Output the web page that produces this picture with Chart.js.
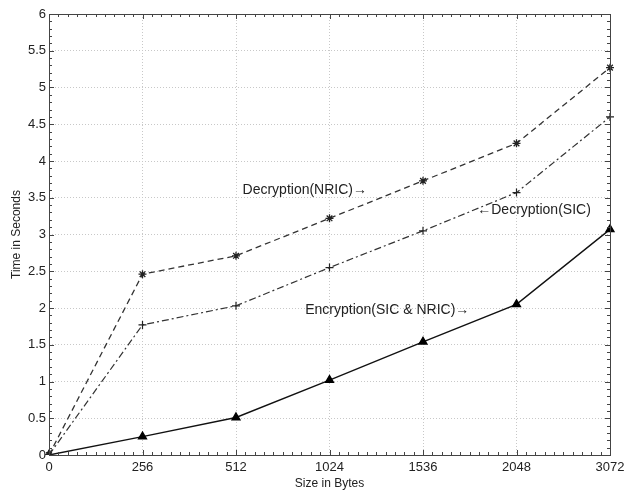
<!DOCTYPE html>
<html>
<head>
<meta charset="utf-8">
<script src="https://cdn.jsdelivr.net/npm/chart.js@4"></script>
<style>
  html, body { margin: 0; padding: 0; background: #fff; }
  #wrap { width: 624px; height: 491px; }
</style>
</head>
<body>
<div id="wrap"><canvas id="timeChart" width="624" height="491"></canvas></div>
<script>
// DATA
const sizes = ['0', '256', '512', '1024', '1536', '2048', '3072'];
const decNric = [0, 2.46, 2.71, 3.22, 3.73, 4.24, 5.27];
const decSic = [0, 1.77, 2.03, 2.55, 3.05, 3.57, 4.60];
const encBoth = [0, 0.25, 0.51, 1.02, 1.54, 2.05, 3.07];

// text labels placed in data units (x = category index, y = seconds)
const notes = [
    { text: 'Decryption(NRIC)\u2192', x: 2.07, y: 3.61 },
    { text: '\u2190Decryption(SIC)', x: 4.58, y: 3.33 },
    { text: 'Encryption(SIC & NRIC)\u2192', x: 2.74, y: 1.97 }
];

const FONT = '"Liberation Sans", Arial, sans-serif';

// box, inward ticks (major + minor) and text notes
const matlabAxes = {
    id: 'matlabAxes',
    afterDraw(chart) {
        const c = chart.ctx;
        const a = chart.chartArea;
        const xs = chart.scales.x;
        const ys = chart.scales.y;
        c.save();
        c.strokeStyle = '#444';
        c.lineWidth = 1;

        c.beginPath();
        // x ticks, minor every 0.1 category
        for (let i = 0; i <= (sizes.length - 1) * 10; i++) {
            const px = Math.round(xs.getPixelForValue(i / 10)) + 0.5;
            const len = i % 10 === 0 ? 5 : 3;
            c.moveTo(px, a.bottom); c.lineTo(px, a.bottom - len);
            c.moveTo(px, a.top); c.lineTo(px, a.top + len);
        }
        // y ticks, minor every 0.1 s
        for (let j = 0; j <= 60; j++) {
            const py = Math.round(ys.getPixelForValue(j / 10)) + 0.5;
            const len = j % 5 === 0 ? 5 : 3;
            c.moveTo(a.left, py); c.lineTo(a.left + len, py);
            c.moveTo(a.right, py); c.lineTo(a.right - len, py);
        }
        c.stroke();

        c.strokeRect(Math.round(a.left) + 0.5, Math.round(a.top) + 0.5,
            Math.round(a.right - a.left), Math.round(a.bottom - a.top));

        c.fillStyle = '#222';
        c.font = '14px ' + FONT;
        c.textBaseline = 'middle';
        notes.forEach(n => {
            c.fillText(n.text, xs.getPixelForValue(n.x), ys.getPixelForValue(n.y));
        });
        c.restore();
    }
};

new Chart(document.getElementById('timeChart'), {
    type: 'line',
    data: {
        labels: sizes,
        datasets: [
            {
                label: 'Decryption(NRIC)',
                data: decNric,
                borderColor: '#333',
                borderWidth: 1.3,
                borderDash: [6, 4],
                pointStyle: 'star',
                pointRadius: 4,
                pointBorderColor: '#222',
                pointBorderWidth: 1.3,
                tension: 0
            },
            {
                label: 'Decryption(SIC)',
                data: decSic,
                borderColor: '#333',
                borderWidth: 1.2,
                borderDash: [7, 3, 2, 3],
                pointStyle: 'crossRot',
                rotation: 45,
                pointRadius: 4,
                pointBorderColor: '#222',
                pointBorderWidth: 1.2,
                tension: 0
            },
            {
                label: 'Encryption(SIC & NRIC)',
                data: encBoth,
                borderColor: '#111',
                borderWidth: 1.4,
                pointStyle: 'triangle',
                pointRadius: 4.5,
                pointBackgroundColor: '#000',
                pointBorderColor: '#000',
                tension: 0
            }
        ]
    },
    options: {
        responsive: false,
        animation: false,
        layout: { padding: { top: 14, right: 0, left: 0, bottom: 0 } },
        plugins: {
            legend: { display: false },
            tooltip: { enabled: false }
        },
        scales: {
            x: {
                offset: false,
                grid: { color: '#c8c8c8', drawTicks: false },
                border: { display: false, dash: [1, 2] },
                ticks: { color: '#222', font: { family: FONT, size: 13 }, padding: 5, maxRotation: 0 },
                title: { display: true, text: 'Size in Bytes', color: '#222', font: { family: FONT, size: 12 }, padding: 0 },
                afterFit(scale) {
                    scale.height = 36;
                    scale.paddingLeft = 0;
                    scale.paddingRight = 14;
                }
            },
            y: {
                min: 0,
                max: 6,
                grid: { color: '#c8c8c8', drawTicks: false },
                border: { display: false, dash: [1, 2] },
                ticks: {
                    stepSize: 0.5, color: '#222', font: { family: FONT, size: 13 }, padding: 3,
                    callback: v => String(v)
                },
                title: { display: true, text: 'Time in Seconds', color: '#222', font: { family: FONT, size: 12 }, padding: { top: 9, bottom: 0 } },
                afterFit(scale) { scale.width = 49; }
            }
        }
    },
    plugins: [matlabAxes]
});
</script>
</body>
</html>
